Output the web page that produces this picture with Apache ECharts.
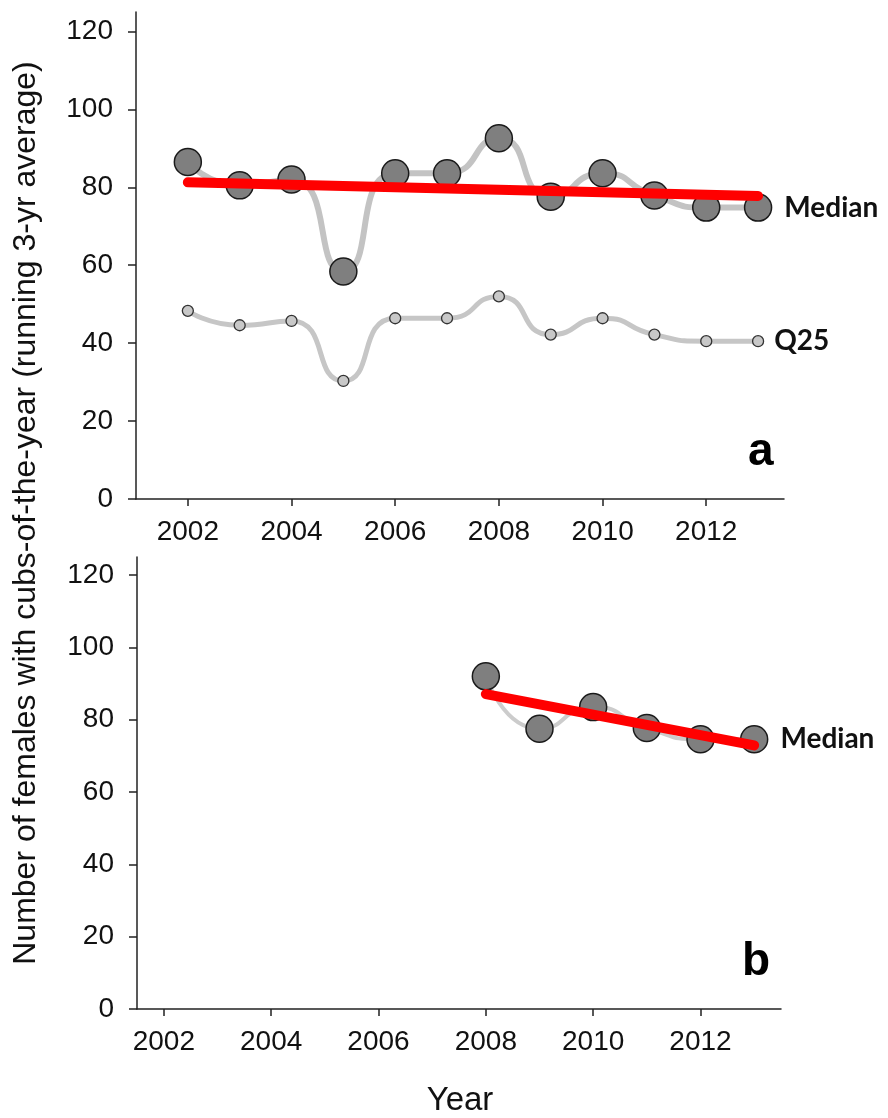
<!DOCTYPE html>
<html>
<head>
<meta charset="utf-8">
<script src="https://cdn.jsdelivr.net/npm/echarts@6/dist/echarts.min.js"></script>
<style>
html,body{margin:0;padding:0;background:#fff;}
#chart{width:888px;height:1118px;}
</style>
</head>
<body>
<div id="chart"></div>
<script>
// ---- data ----
const yearsA = [2002, 2003, 2004, 2005, 2006, 2007, 2008, 2009, 2010, 2011, 2012, 2013];
const medianA = [86.5, 80.5, 82.0, 58.4, 83.6, 83.6, 92.6, 77.6, 83.6, 77.9, 74.8, 74.8];
const q25A = [48.3, 44.6, 45.7, 30.3, 46.4, 46.4, 52.0, 42.2, 46.4, 42.2, 40.5, 40.5];
const trendYearsA = [2002, 2013];
const trendA = [81.3, 77.8];

const yearsB = [2008, 2009, 2010, 2011, 2012, 2013];
const medianB = [92.0, 77.5, 83.5, 77.7, 74.6, 74.6];
const trendYearsB = [2008, 2013];
const trendB = [87.1, 72.9];

const xTickLabels = [2002, 2004, 2006, 2008, 2010, 2012];
const yTickLabels = [0, 20, 40, 60, 80, 100, 120];

const panelLetters = ['a', 'b'];
const seriesNames = ['Median', 'Q25'];

// ---- helpers ----
const FONT = 'Liberation Sans, Arial, sans-serif';
const pairs = (xs, ys) => xs.map((x, i) => [x, ys[i]]);
function withEndLabel(data, text, dist) {
  const d = data.map(p => ({ value: p }));
  d[d.length - 1].label = {
    show: true, position: 'right', distance: dist, formatter: text,
    fontFamily: 'Lato, Open Sans, sans-serif', fontWeight: 'bold', fontSize: 28, color: '#111'
  };
  return d;
}

function xAxisOpt(grid, min, max) {
  return {
    type: 'value', gridIndex: grid, min: min, max: max,
    axisLine: { show: true, onZero: false, lineStyle: { color: '#222', width: 1.5 } },
    axisTick: { show: true, length: 7, customValues: xTickLabels, lineStyle: { color: '#222', width: 1.5 } },
    axisLabel: { customValues: xTickLabels, margin: 19, fontFamily: FONT, fontSize: 28, color: '#111',
      formatter: v => String(v) },
    splitLine: { show: false }
  };
}
function yAxisOpt(grid) {
  return {
    type: 'value', gridIndex: grid, min: 0, max: 125,
    axisLine: { show: true, onZero: false, lineStyle: { color: '#222', width: 1.5 } },
    axisTick: { show: true, length: 8, customValues: yTickLabels, lineStyle: { color: '#222', width: 1.5 } },
    axisLabel: { customValues: yTickLabels, margin: 23, fontFamily: FONT, fontSize: 28, color: '#111' },
    splitLine: { show: false }
  };
}

const medStyle = { color: '#7f7f7f', borderColor: '#1a1a1a', borderWidth: 1.5 };
const q25Style = { color: '#c8c8c8', borderColor: '#333', borderWidth: 1.3 };

const chart = echarts.init(document.getElementById('chart'), null, { renderer: 'canvas' });
chart.setOption({
  backgroundColor: '#ffffff',
  animation: false,
  grid: [
    { left: 136, right: 104, top: 12, height: 487 },
    { left: 137, right: 107, top: 557, height: 452 }
  ],
  xAxis: [xAxisOpt(0, 2001, 2013.5), xAxisOpt(1, 2001.5, 2013.5)],
  yAxis: [yAxisOpt(0), yAxisOpt(1)],
  series: [
    {
      type: 'line', xAxisIndex: 0, yAxisIndex: 0, smooth: 0.6,
      data: withEndLabel(pairs(yearsA, q25A), seriesNames[1], 10),
      symbol: 'circle', symbolSize: 11, itemStyle: q25Style,
      lineStyle: { color: '#c6c6c6', width: 5 }, z: 2
    },
    {
      type: 'line', xAxisIndex: 0, yAxisIndex: 0, smooth: 0.6,
      data: withEndLabel(pairs(yearsA, medianA), seriesNames[0], 12),
      symbol: 'circle', symbolSize: 27, itemStyle: medStyle,
      lineStyle: { color: '#c3c3c3', width: 6 }, z: 3
    },
    {
      type: 'line', xAxisIndex: 0, yAxisIndex: 0,
      data: pairs(trendYearsA, trendA), symbol: 'none',
      lineStyle: { color: '#ff0000', width: 10, cap: 'round' }, z: 5
    },
    {
      type: 'line', xAxisIndex: 1, yAxisIndex: 1, smooth: 0.6,
      data: withEndLabel(pairs(yearsB, medianB), seriesNames[0], 12),
      symbol: 'circle', symbolSize: 27, itemStyle: medStyle,
      lineStyle: { color: '#cccccc', width: 4 }, z: 3
    },
    {
      type: 'line', xAxisIndex: 1, yAxisIndex: 1,
      data: pairs(trendYearsB, trendB), symbol: 'none',
      lineStyle: { color: '#ff0000', width: 10, cap: 'round' }, z: 5
    }
  ],
  graphic: [
    { type: 'text', x: 748, y: 452, style: { text: panelLetters[0], fontFamily: FONT, fontWeight: 'bold', fontSize: 46, fill: '#000', textAlign: 'left', textVerticalAlign: 'middle' } },
    { type: 'text', x: 742, y: 962, style: { text: panelLetters[1], fontFamily: FONT, fontWeight: 'bold', fontSize: 46, fill: '#000', textAlign: 'left', textVerticalAlign: 'middle' } },
    { type: 'text', x: 26, y: 513, rotation: Math.PI / 2, style: { text: 'Number of females with cubs-of-the-year (running 3-yr average)', fontFamily: FONT, fontSize: 32, fill: '#111', textAlign: 'center', textVerticalAlign: 'middle' } },
    { type: 'text', x: 460, y: 1101, style: { text: 'Year', fontFamily: FONT, fontSize: 33, fill: '#111', textAlign: 'center', textVerticalAlign: 'middle' } }
  ]
});
</script>
</body>
</html>
